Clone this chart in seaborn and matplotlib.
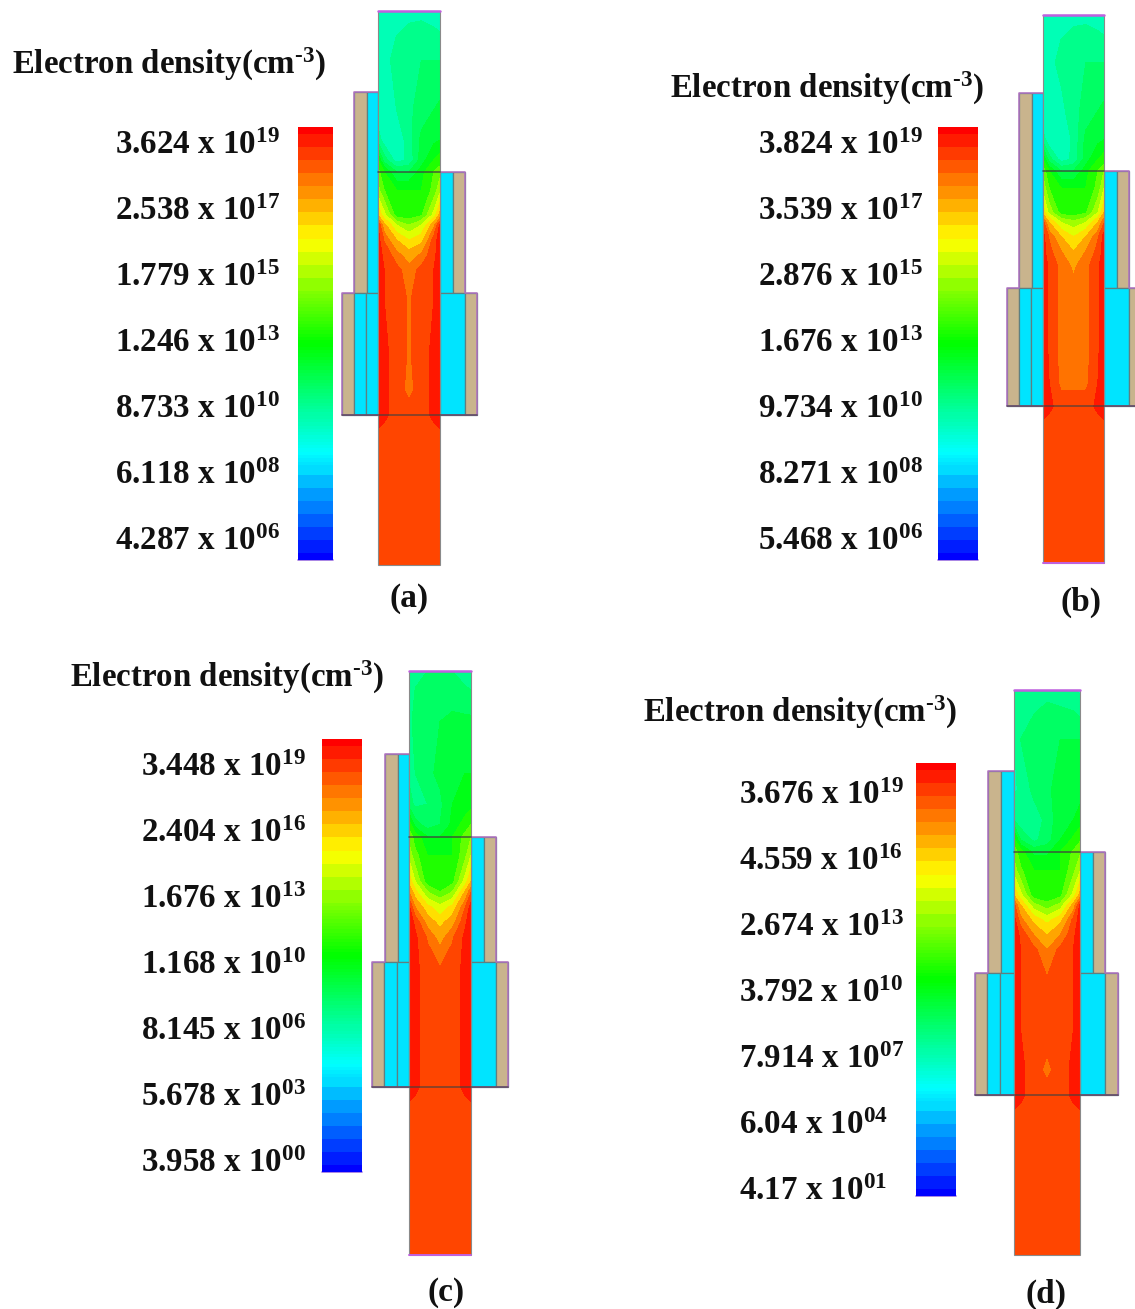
import numpy as np
import matplotlib
matplotlib.use('Agg')
import matplotlib.pyplot as plt
from matplotlib.colors import LinearSegmentedColormap
from matplotlib.patches import Rectangle
import seaborn as sns

# tick labels of each legend, top to bottom
mant_a = ['3.624', '2.538', '1.779', '1.246', '8.733', '6.118', '4.287']
exp_a = ['19', '17', '15', '13', '10', '08', '06']
mant_b = ['3.824', '3.539', '2.876', '1.676', '9.734', '8.271', '5.468']
exp_b = ['19', '17', '15', '13', '10', '08', '06']
mant_c = ['3.448', '2.404', '1.676', '1.168', '8.145', '5.678', '3.958']
exp_c = ['19', '16', '13', '10', '06', '03', '00']
mant_d = ['3.676', '4.559', '2.674', '3.792', '7.914', '6.04', '4.17']
exp_d = ['19', '16', '13', '10', '07', '04', '01']

# heights of the rows below, measured on panel (a)
row_y = [11, 60, 110, 140, 160, 172, 190, 215, 225, 240, 255, 270, 300, 350, 390, 415, 437, 565]
col_x = [0, 0.1, 0.3, 0.5, 0.7, 0.9, 1]

# channel density, as position on the colour scale (0 blue, 1 red)
dens_a = [
    [.32, .33, .33, .33, .33, .32, .31],
    [.32, .33, .35, .37, .38, .38, .38],
    [.31, .32, .34, .37, .40, .42, .43],
    [.36, .32, .31, .36, .43, .45, .46],
    [.50, .40, .32, .35, .44, .50, .52],
    [.58, .50, .42, .42, .48, .56, .60],
    [.64, .56, .50, .50, .50, .58, .66],
    [.80, .70, .53, .52, .55, .70, .82],
    [.95, .82, .68, .62, .68, .84, .96],
    [.97, .90, .80, .74, .78, .93, .97],
    [.97, .94, .88, .83, .87, .94, .97],
    [.98, .95, .92, .88, .92, .95, .98],
    [.98, .95, .93, .90, .93, .95, .98],
    [.98, .96, .93, .90, .93, .96, .98],
    [.98, .96, .93, .89, .93, .96, .98],
    [.98, .96, .93, .93, .93, .96, .98],
    [.93, .93, .93, .93, .93, .93, .93],
    [.93, .93, .93, .93, .93, .93, .93],
]
dens_b = [
    [.31, .32, .33, .33, .33, .32, .31],
    [.31, .33, .35, .37, .38, .38, .38],
    [.30, .31, .33, .36, .40, .42, .43],
    [.36, .31, .30, .35, .43, .45, .46],
    [.50, .40, .32, .35, .44, .50, .52],
    [.60, .50, .42, .42, .48, .56, .62],
    [.66, .56, .50, .50, .50, .58, .68],
    [.78, .66, .53, .52, .55, .68, .80],
    [.92, .80, .68, .64, .68, .80, .90],
    [.97, .90, .80, .74, .80, .90, .97],
    [.97, .92, .86, .80, .86, .92, .97],
    [.98, .94, .89, .85, .89, .94, .98],
    [.98, .94, .89, .88, .89, .94, .98],
    [.98, .94, .89, .89, .89, .94, .98],
    [.98, .95, .89, .89, .89, .95, .98],
    [.98, .96, .93, .93, .93, .96, .98],
    [.93, .93, .93, .93, .93, .93, .93],
    [.93, .93, .93, .93, .93, .93, .93],
]
dens_c = [
    [.36, .37, .38, .39, .38, .36, .35],
    [.36, .40, .41, .42, .43, .43, .43],
    [.37, .38, .41, .43, .45, .46, .46],
    [.40, .37, .38, .41, .46, .47, .48],
    [.53, .44, .40, .42, .47, .52, .56],
    [.60, .53, .46, .46, .50, .58, .62],
    [.66, .58, .50, .50, .50, .60, .68],
    [.78, .68, .52, .51, .54, .70, .80],
    [.86, .76, .62, .56, .62, .80, .90],
    [.96, .86, .76, .70, .76, .90, .97],
    [.98, .94, .84, .78, .84, .94, .98],
    [.98, .96, .90, .84, .90, .96, .98],
    [.98, .96, .93, .91, .93, .96, .98],
    [.98, .96, .93, .93, .93, .96, .98],
    [.98, .96, .93, .93, .93, .96, .98],
    [.98, .96, .93, .93, .93, .96, .98],
    [.93, .93, .93, .93, .93, .93, .93],
    [.93, .93, .93, .93, .93, .93, .93],
]
dens_d = [
    [.34, .35, .36, .37, .36, .35, .33],
    [.34, .38, .40, .41, .42, .42, .42],
    [.33, .35, .39, .41, .44, .45, .45],
    [.38, .35, .36, .39, .45, .46, .47],
    [.52, .42, .37, .40, .46, .51, .55],
    [.60, .52, .45, .45, .50, .57, .61],
    [.65, .57, .50, .50, .50, .60, .67],
    [.80, .70, .52, .51, .54, .70, .82],
    [.92, .80, .64, .58, .64, .82, .96],
    [.97, .88, .78, .72, .78, .92, .97],
    [.98, .94, .86, .80, .86, .94, .98],
    [.98, .95, .92, .86, .92, .95, .98],
    [.98, .95, .93, .91, .93, .95, .98],
    [.98, .95, .93, .93, .93, .95, .98],
    [.98, .96, .93, .89, .93, .96, .98],
    [.98, .96, .93, .93, .93, .96, .98],
    [.93, .93, .93, .93, .93, .93, .93],
    [.93, .93, .93, .93, .93, .93, .93],
]

# contour bands of the channel plot
band_edges = [0, .25, .30, .34, .38, .42, .46, .50, .56, .62, .68, .74, .80, .86, .905, .95, 1]

brown = '#c9b48d'
cyan = '#00e4ff'
edge = '#b070c0'
inner = '#5f7f80'
font = 'Liberation Serif'

sns.set_theme(style='white')
plt.rcParams['font.family'] = font
plt.rcParams['mathtext.fontset'] = 'custom'
plt.rcParams['mathtext.rm'] = font + ':bold'
plt.rcParams['mathtext.bf'] = font + ':bold'
plt.rcParams['mathtext.it'] = font + ':bold'

cmap = LinearSegmentedColormap.from_list('tcad', [
    (0, '#0000ff'), (.245, '#00ffff'), (.5, '#00ff00'), (.74, '#ffff00'), (1, '#ff0000')])

W, H = 1135, 1309
fig = plt.figure(figsize=(W / 100, H / 100), dpi=100)
ax = fig.add_axes([0, 0, 1, 1])
ax.set_xlim(0, W)
ax.set_ylim(H, 0)
ax.axis('off')

# layout of each panel in pixels
panels = [
    dict(name='(a)', mant=mant_a, exp=exp_a, dens=dens_a, lx=115, ly=146, tx=12, ty=64, cap=(409, 599),
         bar=(298, 127, 35, 433), ch=(378, 440), lv=(11, 172, 293, 415, 565), gl=(92, 354, 342), gr=(465, 477), foot=False),
    dict(name='(b)', mant=mant_b, exp=exp_b, dens=dens_b, lx=758, ly=146, tx=670, ty=88, cap=(1081, 602),
         bar=(938, 127, 40, 433), ch=(1043, 1104), lv=(15, 171, 288, 406, 563), gl=(93, 1019, 1007), gr=(1129, 1141), foot=True),
    dict(name='(c)', mant=mant_c, exp=exp_c, dens=dens_c, lx=141, ly=767, tx=70, ty=677, cap=(446, 1293),
         bar=(322, 739, 40, 433), ch=(409, 471), lv=(671, 837, 962, 1087, 1255), gl=(754, 385, 372), gr=(496, 508), foot=True),
    dict(name='(d)', mant=mant_d, exp=exp_d, dens=dens_d, lx=739, ly=795, tx=643, ty=712, cap=(1046, 1294),
         bar=(916, 763, 40, 433), ch=(1014, 1080), lv=(690, 852, 973, 1095, 1255), gl=(771, 988, 975), gr=(1105, 1118), foot=False),
]


def box(x0, x1, y0, y1, color):
    ax.add_patch(Rectangle((x0, y0), x1 - x0, y1 - y0, fc=color, ec=inner, lw=0.9, zorder=2))


for p in panels:
    x0, x1 = p['ch']
    top, y1, y2, y3, bot = p['lv']
    gate_top, lx_up, lx_lo = p['gl']
    rx_up, rx_lo = p['gr']

    # gate stack, left and right of the channel
    box(lx_up, lx_up + 13, gate_top, y2, brown)
    box(lx_up + 13, x0, gate_top, y2, cyan)
    box(lx_lo, lx_lo + 12, y2, y3, brown)
    box(lx_lo + 12, lx_up + 12, y2, y3, cyan)
    box(lx_up + 12, x0, y2, y3, cyan)
    box(x1, x1 + 13, y1, y2, cyan)
    box(x1 + 13, rx_up, y1, y2, brown)
    box(x1, rx_up, y2, y3, cyan)
    box(rx_up, rx_lo, y2, y3, brown)
    ax.plot([x0, lx_up, lx_up, lx_lo, lx_lo, x0], [gate_top, gate_top, y2, y2, y3, y3], color=edge, lw=1.1, zorder=2.5)
    ax.plot([x1, rx_up, rx_up, rx_lo, rx_lo, x1], [y1, y1, y2, y2, y3, y3], color=edge, lw=1.1, zorder=2.5)

    # channel contours
    yy = np.interp(row_y, [11, 172, 293, 415, 565], p['lv'])
    xx = x0 + np.array(col_x) * (x1 - x0)
    ax.contourf(xx, yy, np.array(p['dens']), levels=band_edges, cmap=cmap, vmin=0, vmax=1, zorder=3)
    ax.add_patch(Rectangle((x0, top), x1 - x0, bot - top, fc='none', ec='#8a8a8a', lw=0.8, zorder=4))
    ax.plot([x0, x1], [y1, y1], color='#404040', lw=1.2, alpha=.8, zorder=5)
    ax.plot([lx_lo, rx_lo], [y3, y3], color='#404040', lw=1.2, alpha=.7, zorder=5)
    ax.plot([x0, x1], [top, top], color='#c060e0', lw=1.8, zorder=5)
    if p['foot']:
        ax.plot([x0, x1], [bot, bot], color='#c060e0', lw=1.4, zorder=5)

    # colour legend, stepped at both ends and nearly smooth in the middle
    bx, by, bw, bh = p['bar']
    cax = fig.add_axes([bx / W, 1 - (by + bh) / H, bw / W, bh / H])
    steps = np.linspace(1, 0, 132)
    coarse = (steps > .62) | (steps < .22)
    steps[coarse] = np.round(steps[coarse] * 33) / 33
    sns.heatmap(steps.reshape(-1, 1), cmap=cmap, vmin=0, vmax=1, cbar=False,
                xticklabels=False, yticklabels=False, ax=cax)
    ax.plot([bx, bx + bw], [by + bh, by + bh], color='#9a70e0', lw=1.2, zorder=5)

    for i in range(7):
        ax.text(p['lx'], p['ly'] + i * 66, p['mant'][i] + ' x 10$^{\\mathbf{' + p['exp'][i] + '}}$',
                fontsize=23.8, fontweight='bold', color='#111111', va='center', ha='left')
    ax.text(p['tx'], p['ty'], 'Electron density(cm$^{\\mathbf{\u20103}}$)', fontsize=23.7, fontweight='bold',
            color='#111111', va='center', ha='left')
    ax.text(p['cap'][0], p['cap'][1], p['name'], fontsize=24, fontweight='bold', color='#111111',
            va='center', ha='center')

fig.savefig('out.png', dpi=100)
